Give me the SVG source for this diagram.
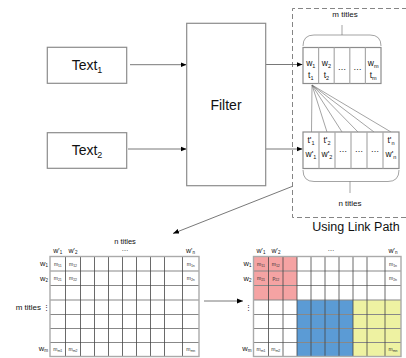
<svg xmlns="http://www.w3.org/2000/svg" width="406" height="358" viewBox="0 0 406 358">
  <defs>
    <marker id="arrow" viewBox="0 0 10 10" refX="10" refY="5" markerWidth="6" markerHeight="6" markerUnits="userSpaceOnUse" orient="auto">
      <path d="M0,1 L10,5 L0,9 z" fill="#000"/>
    </marker>
    <style>
      text { font-family: "Liberation Sans", Arial, sans-serif; fill: #111; }
      .box { fill: #fff; stroke: #8c8c8c; stroke-width: 1.2; }
      .conn { fill: none; stroke: #555; stroke-width: 0.8; }
      .thin { fill: none; stroke: #666; stroke-width: 0.6; }
      .dash { fill: none; stroke: #777; stroke-width: 0.9; stroke-dasharray: 5 3; }
      .cellsep { stroke: #aaa; stroke-width: 1.2; }
      .big { font-size: 14px; text-anchor: middle; }
      .cell { font-size: 8.5px; text-anchor: middle; }
      .lab { font-size: 7.5px; }
      .hdr { font-size: 7px; text-anchor: middle; }
      .m { font-size: 5px; text-anchor: middle; fill: #333; }
      .vline { stroke: #444; stroke-width: 0.8; }
      .hline { stroke: #888; stroke-width: 1.1; }
      .outer { fill: none; stroke: #aaa; stroke-width: 1.4; }
    </style>
  </defs>

  <!-- dashed frame of the link-path block -->
  <path class="dash" d="M407,8.5 H292.5 V217.5 H407"/>

  <!-- connectors -->
  <g id="connectors">
    <line class="conn" x1="130" y1="64.7" x2="186.5" y2="64.7" marker-end="url(#arrow)"/>
    <line class="conn" x1="128" y1="149" x2="186.5" y2="149" marker-end="url(#arrow)"/>
    <line class="conn" x1="266" y1="64.5" x2="302.5" y2="64.5" marker-end="url(#arrow)"/>
    <line class="conn" x1="266" y1="149" x2="302.5" y2="149" marker-end="url(#arrow)"/>
    <line class="conn" x1="292" y1="186.5" x2="173" y2="233.5" marker-end="url(#arrow)"/>
    <line class="conn" x1="204" y1="301" x2="243" y2="301" marker-end="url(#arrow)"/>
    <!-- link fan from t1 to the n titles -->
    <g class="thin">
      <line x1="312" y1="85" x2="311.5" y2="132"/>
      <line x1="312" y1="85" x2="327" y2="132"/>
      <line x1="312" y1="85" x2="342" y2="132"/>
      <line x1="312" y1="85" x2="358" y2="132"/>
      <line x1="312" y1="85" x2="374" y2="132"/>
      <line x1="312" y1="85" x2="391" y2="132"/>
    </g>
  </g>

  <!-- input texts -->
  <g id="text1">
    <rect class="box" x="47.3" y="47.3" width="79.4" height="36"/>
    <text class="big" x="87" y="70">Text<tspan font-size="9" dy="3">1</tspan></text>
  </g>
  <g id="text2">
    <rect class="box" x="47.3" y="132.7" width="79.4" height="35.6"/>
    <text class="big" x="87" y="155">Text<tspan font-size="9" dy="3">2</tspan></text>
  </g>

  <!-- filter -->
  <g id="filter">
    <rect class="box" x="186.7" y="23.3" width="79" height="162.4"/>
    <text class="big" x="226" y="110">Filter</text>
  </g>

  <!-- m titles strip -->
  <g id="m-titles">
    <path class="thin" d="M303,46 Q303,35 314,35 H370 Q381,35 381,46 M342,35 V25"/>
    <text x="345" y="17" font-size="8" text-anchor="middle">m titles</text>
    <rect class="box" x="303" y="47.5" width="78" height="36"/>
    <g class="cellsep">
      <line x1="318.6" y1="47.5" x2="318.6" y2="83.5"/>
      <line x1="334.2" y1="47.5" x2="334.2" y2="83.5"/>
      <line x1="349.8" y1="47.5" x2="349.8" y2="83.5"/>
      <line x1="365.4" y1="47.5" x2="365.4" y2="83.5"/>
    </g>
    <text class="cell" x="310.8" y="66">w<tspan font-size="5.5" dy="1.5">1</tspan></text>
    <text class="cell" x="310.8" y="78">t<tspan font-size="5.5" dy="1.5">1</tspan></text>
    <text class="cell" x="326.4" y="66">w<tspan font-size="5.5" dy="1.5">2</tspan></text>
    <text class="cell" x="326.4" y="78">t<tspan font-size="5.5" dy="1.5">2</tspan></text>
    <text class="cell" x="342" y="70">…</text>
    <text class="cell" x="357.6" y="70">…</text>
    <text class="cell" x="373.2" y="66">w<tspan font-size="5.5" dy="1.5">m</tspan></text>
    <text class="cell" x="373.2" y="78">t<tspan font-size="5.5" dy="1.5">m</tspan></text>
  </g>

  <!-- n titles strip -->
  <g id="n-titles">
    <rect class="box" x="303" y="132" width="96" height="36.5"/>
    <g class="cellsep">
      <line x1="319" y1="132" x2="319" y2="168.5"/>
      <line x1="335" y1="132" x2="335" y2="168.5"/>
      <line x1="351" y1="132" x2="351" y2="168.5"/>
      <line x1="367" y1="132" x2="367" y2="168.5"/>
      <line x1="383" y1="132" x2="383" y2="168.5"/>
    </g>
    <text class="cell" x="311" y="143">t'<tspan font-size="5.5" dy="1.5">1</tspan></text>
    <text class="cell" x="311" y="157">w'<tspan font-size="5.5" dy="1.5">1</tspan></text>
    <text class="cell" x="327" y="143">t'<tspan font-size="5.5" dy="1.5">2</tspan></text>
    <text class="cell" x="327" y="157">w'<tspan font-size="5.5" dy="1.5">2</tspan></text>
    <text class="cell" x="343" y="152">…</text>
    <text class="cell" x="359" y="152">…</text>
    <text class="cell" x="375" y="152">…</text>
    <text class="cell" x="391" y="143">t'<tspan font-size="5.5" dy="1.5">n</tspan></text>
    <text class="cell" x="391" y="157">w'<tspan font-size="5.5" dy="1.5">n</tspan></text>
    <path class="thin" d="M303,170 Q303,181.5 314,181.5 H388 Q399,181.5 399,170 M350,181.5 V193"/>
    <text x="350" y="206" font-size="8" text-anchor="middle">n titles</text>
  </g>

  <text x="356" y="231" font-size="12.5" text-anchor="middle">Using Link Path</text>

  <!-- plain title matrix -->
  <g id="matrix">
    <text x="125" y="244" font-size="7.5" text-anchor="middle">n titles</text>
    <text class="hdr" x="125" y="251">…</text>
    <text class="hdr" x="57.7" y="253">w'<tspan font-size="4.5" dy="1.2">1</tspan></text>
    <text class="hdr" x="73" y="253">w'<tspan font-size="4.5" dy="1.2">2</tspan></text>
    <text class="hdr" x="190.5" y="253">w'<tspan font-size="4.5" dy="1.2">n</tspan></text>
    <text class="lab" x="48" y="266" text-anchor="end">w<tspan font-size="4.5" dy="1.2">1</tspan></text>
    <text class="lab" x="48" y="281" text-anchor="end">w<tspan font-size="4.5" dy="1.2">2</tspan></text>
    <text class="lab" x="48" y="351" text-anchor="end">w<tspan font-size="4.5" dy="1.2">m</tspan></text>
    <text x="41" y="310" font-size="8" text-anchor="end">m titles</text>
    <text x="46" y="310" font-size="7" text-anchor="middle">⋮</text>
    <g class="hline">
      <line x1="50" y1="271" x2="199" y2="271"/>
      <line x1="50" y1="285.5" x2="199" y2="285.5"/>
      <line x1="50" y1="300" x2="199" y2="300"/>
      <line x1="50" y1="314.5" x2="199" y2="314.5"/>
      <line x1="50" y1="328.5" x2="199" y2="328.5"/>
      <line x1="50" y1="342.5" x2="199" y2="342.5"/>
    </g>
    <g class="vline">
      <line x1="65.5" y1="256.5" x2="65.5" y2="356.5"/>
      <line x1="80.5" y1="256.5" x2="80.5" y2="356.5"/>
      <line x1="94.5" y1="256.5" x2="94.5" y2="356.5"/>
      <line x1="108.5" y1="256.5" x2="108.5" y2="356.5"/>
      <line x1="122.5" y1="256.5" x2="122.5" y2="356.5"/>
      <line x1="136.5" y1="256.5" x2="136.5" y2="356.5"/>
      <line x1="150.5" y1="256.5" x2="150.5" y2="356.5"/>
      <line x1="164.5" y1="256.5" x2="164.5" y2="356.5"/>
      <line x1="182.5" y1="256.5" x2="182.5" y2="356.5"/>
    </g>
    <rect class="outer" x="50" y="256.5" width="149" height="100"/>
    <text class="m" x="57.8" y="265.5">m<tspan font-size="3.5" dy="1">11</tspan></text>
    <text class="m" x="73" y="265.5">m<tspan font-size="3.5" dy="1">12</tspan></text>
    <text class="m" x="57.8" y="280">m<tspan font-size="3.5" dy="1">21</tspan></text>
    <text class="m" x="73" y="280">m<tspan font-size="3.5" dy="1">22</tspan></text>
    <text class="m" x="190.8" y="265.5">m<tspan font-size="3.5" dy="1">1n</tspan></text>
    <text class="m" x="190.8" y="280">m<tspan font-size="3.5" dy="1">2n</tspan></text>
    <text class="m" x="57.8" y="351">m<tspan font-size="3.5" dy="1">m1</tspan></text>
    <text class="m" x="73" y="351">m<tspan font-size="3.5" dy="1">m2</tspan></text>
    <text class="m" x="190.8" y="351">m<tspan font-size="3.5" dy="1">mn</tspan></text>
  </g>

  <!-- link-path matrix with grouped blocks -->
  <g id="link-matrix">
    <rect x="253.5" y="256.5" width="43.5" height="43.5" fill="#f5a3a3"/>
    <rect x="297" y="300" width="56" height="56.5" fill="#5b9bd5"/>
    <rect x="353" y="300" width="48" height="56.5" fill="#eef2a2"/>
    <text class="hdr" x="331" y="251">…</text>
    <text class="hdr" x="261" y="253">w'<tspan font-size="4.5" dy="1.2">1</tspan></text>
    <text class="hdr" x="276" y="253">w'<tspan font-size="4.5" dy="1.2">2</tspan></text>
    <text class="hdr" x="393" y="253">w'<tspan font-size="4.5" dy="1.2">n</tspan></text>
    <text class="lab" x="251.5" y="266" text-anchor="end">w<tspan font-size="4.5" dy="1.2">1</tspan></text>
    <text class="lab" x="251.5" y="281" text-anchor="end">w<tspan font-size="4.5" dy="1.2">2</tspan></text>
    <text class="lab" x="251.5" y="351" text-anchor="end">w<tspan font-size="4.5" dy="1.2">m</tspan></text>
    <text x="248.5" y="310" font-size="7" text-anchor="middle">⋮</text>
    <g class="hline">
      <line x1="253.5" y1="271" x2="401" y2="271"/>
      <line x1="253.5" y1="285.5" x2="401" y2="285.5"/>
      <line x1="253.5" y1="300" x2="401" y2="300"/>
      <line x1="253.5" y1="314.5" x2="401" y2="314.5"/>
      <line x1="253.5" y1="328.5" x2="401" y2="328.5"/>
      <line x1="253.5" y1="342.5" x2="401" y2="342.5"/>
    </g>
    <g class="vline">
      <line x1="268.5" y1="256.5" x2="268.5" y2="356.5"/>
      <line x1="283" y1="256.5" x2="283" y2="356.5"/>
      <line x1="297" y1="256.5" x2="297" y2="356.5"/>
      <line x1="311" y1="256.5" x2="311" y2="356.5"/>
      <line x1="325" y1="256.5" x2="325" y2="356.5"/>
      <line x1="339" y1="256.5" x2="339" y2="356.5"/>
      <line x1="353" y1="256.5" x2="353" y2="356.5"/>
      <line x1="367" y1="256.5" x2="367" y2="356.5"/>
      <line x1="385" y1="256.5" x2="385" y2="356.5"/>
    </g>
    <rect class="outer" x="253.5" y="256.5" width="147.5" height="100"/>
    <text class="m" x="261" y="265.5">m<tspan font-size="3.5" dy="1">11</tspan></text>
    <text class="m" x="275.8" y="265.5">m<tspan font-size="3.5" dy="1">12</tspan></text>
    <text class="m" x="261" y="280">m<tspan font-size="3.5" dy="1">21</tspan></text>
    <text class="m" x="275.8" y="280">p<tspan font-size="3.5" dy="1">22</tspan></text>
    <text class="m" x="393" y="265.5">m<tspan font-size="3.5" dy="1">1n</tspan></text>
    <text class="m" x="393" y="280">m<tspan font-size="3.5" dy="1">2n</tspan></text>
    <text class="m" x="261" y="351">m<tspan font-size="3.5" dy="1">m1</tspan></text>
    <text class="m" x="275.8" y="351">m<tspan font-size="3.5" dy="1">m2</tspan></text>
    <text class="m" x="393" y="351">m<tspan font-size="3.5" dy="1">mn</tspan></text>
  </g>
</svg>
